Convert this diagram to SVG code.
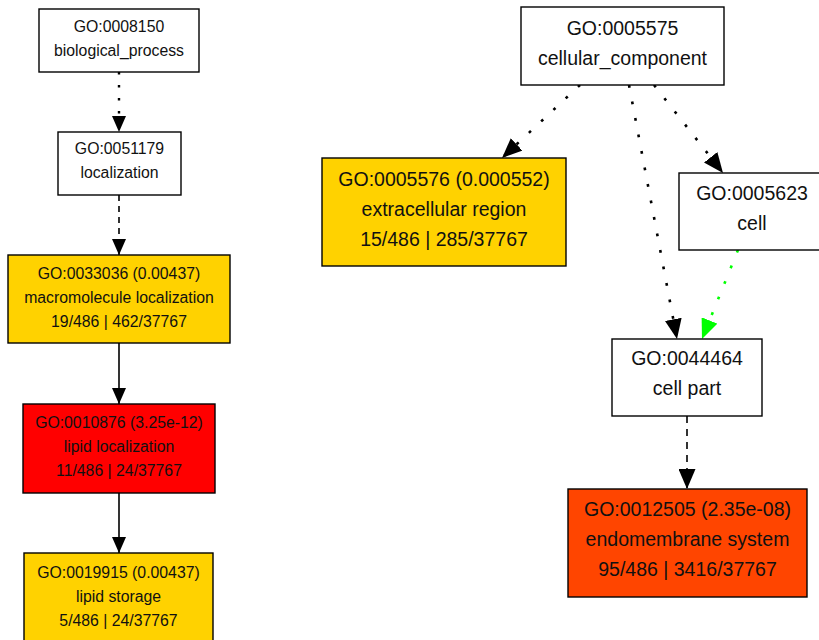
<svg xmlns="http://www.w3.org/2000/svg" width="819" height="640" viewBox="0 0 819 640">
  <style>
    .box { stroke: #000; stroke-width: 1.4; }
    .plain { fill: #fff; }
    .mid { fill: #ffd200; }
    .high { fill: #ff0000; }
    .higher { fill: #ff4500; }
    .t { font-family: "Liberation Sans", Arial, sans-serif; fill: #111; text-anchor: middle; }
    .s { font-size: 15.8px; }
    .l { font-size: 19.5px; }
    .edge { fill: none; stroke: #000; stroke-width: 1.6; stroke-linecap: butt; }
    .dot { stroke-width: 2.4; stroke-dasharray: 2.4 10.6; }
    .dotL { stroke-width: 2.6; stroke-dasharray: 2.8 14; }
    .dash { stroke-dasharray: 6 5; }
    .dashL { stroke-dasharray: 7 6; }
    .green { stroke: #00ff00; }
  </style>
  <defs>
    <marker id="arrS" markerUnits="userSpaceOnUse" markerWidth="17" markerHeight="14" refX="16" refY="7" orient="auto">
      <path d="M0,0 L16,7 L0,14 z" fill="#000"/>
    </marker>
    <marker id="arrL" markerUnits="userSpaceOnUse" markerWidth="21" markerHeight="17" refX="20" refY="8.5" orient="auto">
      <path d="M0,0 L20,8.5 L0,17 z" fill="#000"/>
    </marker>
    <marker id="arrG" markerUnits="userSpaceOnUse" markerWidth="21" markerHeight="17" refX="20" refY="8.5" orient="auto">
      <path d="M0,0 L20,8.5 L0,17 z" fill="#00ff00"/>
    </marker>
  </defs>

  <!-- connectors -->
  <g id="edges">
    <path class="edge dot" d="M119,72 L119,132" marker-end="url(#arrS)"/>
    <path class="edge dash" d="M119,195 L119,255" marker-end="url(#arrS)"/>
    <path class="edge" d="M119,343 L119,404" marker-end="url(#arrS)"/>
    <path class="edge" d="M119,493 L119,553" marker-end="url(#arrS)"/>
    <path class="edge dotL" d="M580,85 L502,158" marker-end="url(#arrL)"/>
    <path class="edge dotL" d="M629,85 L677,339" marker-end="url(#arrL)"/>
    <path class="edge dotL" d="M654,85 L723,173" marker-end="url(#arrL)"/>
    <path class="edge dotL green" d="M738,250 L702,339" marker-end="url(#arrG)"/>
    <path class="edge dashL" d="M687,416 L687,489" marker-end="url(#arrL)"/>
  </g>

  <!-- biological process branch -->
  <g id="GO0008150">
    <rect class="box plain" x="39" y="9" width="160" height="63"/>
    <text class="t s" x="119" y="31.5">GO:0008150</text>
    <text class="t s" x="119" y="56">biological_process</text>
  </g>
  <g id="GO0051179">
    <rect class="box plain" x="58" y="132" width="123" height="63"/>
    <text class="t s" x="119.5" y="154">GO:0051179</text>
    <text class="t s" x="119.5" y="178">localization</text>
  </g>
  <g id="GO0033036">
    <rect class="box mid" x="8" y="255" width="222" height="88"/>
    <text class="t s" x="119" y="279">GO:0033036 (0.00437)</text>
    <text class="t s" x="119" y="303">macromolecule localization</text>
    <text class="t s" x="119" y="327">19/486 | 462/37767</text>
  </g>
  <g id="GO0010876">
    <rect class="box high" x="23" y="404" width="192" height="89"/>
    <text class="t s" x="119" y="427.5">GO:0010876 (3.25e-12)</text>
    <text class="t s" x="119" y="451.5">lipid localization</text>
    <text class="t s" x="119" y="475.5">11/486 | 24/37767</text>
  </g>
  <g id="GO0019915">
    <rect class="box mid" x="24" y="553" width="189" height="110"/>
    <text class="t s" x="118.5" y="577.5">GO:0019915 (0.00437)</text>
    <text class="t s" x="118.5" y="601.5">lipid storage</text>
    <text class="t s" x="118.5" y="625.5">5/486 | 24/37767</text>
  </g>

  <!-- cellular component branch -->
  <g id="GO0005575">
    <rect class="box plain" x="521" y="7" width="203" height="78"/>
    <text class="t l" x="622.5" y="35">GO:0005575</text>
    <text class="t l" x="622.5" y="65">cellular_component</text>
  </g>
  <g id="GO0005576">
    <rect class="box mid" x="322" y="158" width="244" height="108"/>
    <text class="t l" x="444" y="185.5">GO:0005576 (0.000552)</text>
    <text class="t l" x="444" y="215.5">extracellular region</text>
    <text class="t l" x="444" y="245.5">15/486 | 285/37767</text>
  </g>
  <g id="GO0005623">
    <rect class="box plain" x="679" y="173" width="147" height="77"/>
    <text class="t l" x="752" y="199.5">GO:0005623</text>
    <text class="t l" x="752" y="230">cell</text>
  </g>
  <g id="GO0044464">
    <rect class="box plain" x="612" y="339" width="150" height="77"/>
    <text class="t l" x="687" y="365">GO:0044464</text>
    <text class="t l" x="687" y="395">cell part</text>
  </g>
  <g id="GO0012505">
    <rect class="box higher" x="568" y="489" width="239" height="108"/>
    <text class="t l" x="687.5" y="516">GO:0012505 (2.35e-08)</text>
    <text class="t l" x="687.5" y="546">endomembrane system</text>
    <text class="t l" x="687.5" y="576">95/486 | 3416/37767</text>
  </g>
</svg>
